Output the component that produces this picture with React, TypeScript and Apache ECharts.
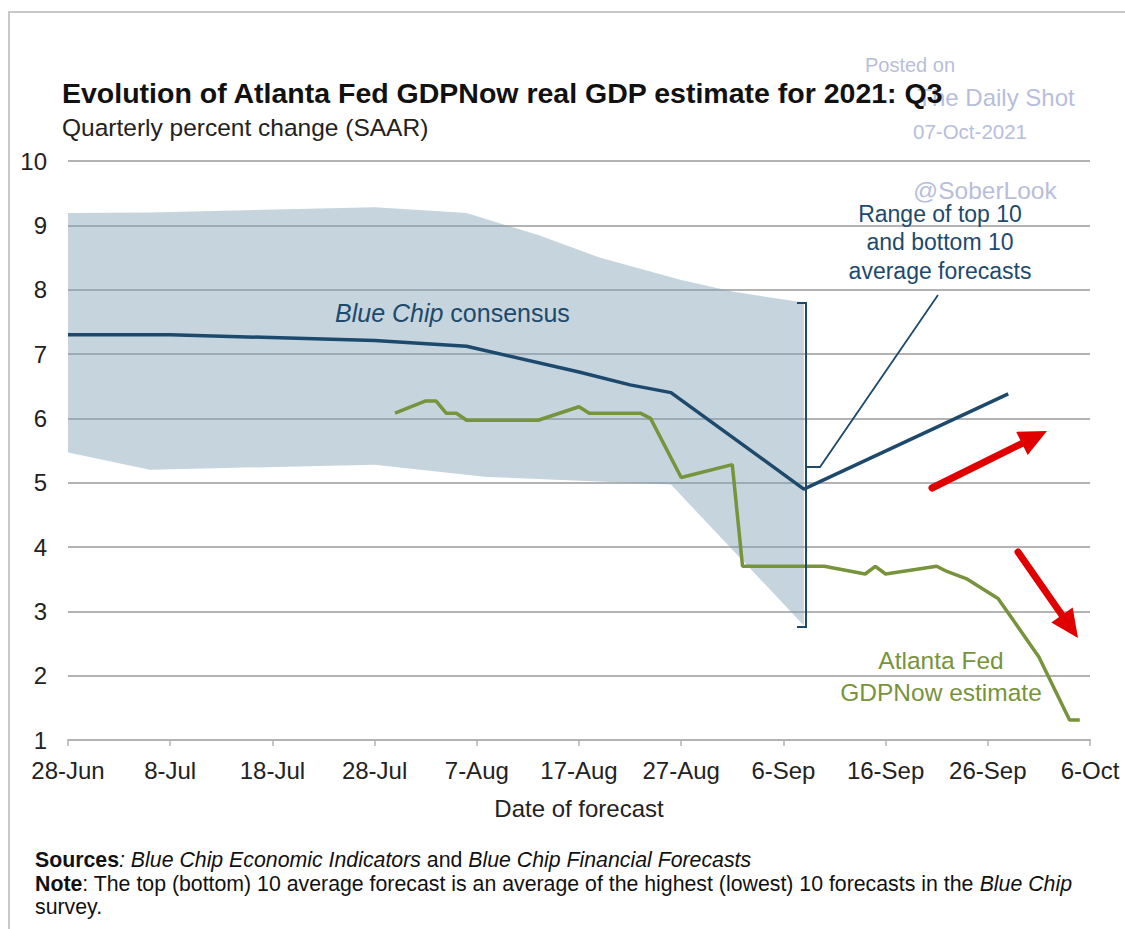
import React, { useEffect, useRef } from "react";
import * as echarts from "echarts";

// x values are days since 28-Jun-2021
const tickLabels = ["28-Jun", "8-Jul", "18-Jul", "28-Jul", "7-Aug", "17-Aug", "27-Aug", "6-Sep", "16-Sep", "26-Sep", "6-Oct"];

const bandUpperDays = [0, 8, 30, 39, 46, 52, 60, 65, 72];
const bandUpperValues = [9.19, 9.2, 9.28, 9.19, 8.85, 8.5, 8.15, 7.97, 7.8];
const bandLowerDays = [0, 8, 30, 41, 59, 72];
const bandLowerValues = [5.47, 5.2, 5.28, 5.09, 4.97, 2.78];

const consensusDays = [0, 10, 30, 39, 50, 55, 59, 72, 92];
const consensusValues = [7.3, 7.3, 7.21, 7.12, 6.72, 6.52, 6.4, 4.9, 6.38];

const gdpNowDays = [32, 35, 36, 37, 38, 39, 46, 50, 51, 56, 57, 60, 65, 66, 74, 78, 79, 80, 85, 86, 88, 91, 92.5, 95, 98, 99];
const gdpNowValues = [6.08, 6.27, 6.27, 6.08, 6.08, 5.97, 5.97, 6.18, 6.08, 6.08, 6.0, 5.08, 5.28, 3.7, 3.7, 3.58, 3.7, 3.58, 3.7, 3.62, 3.5, 3.2, 2.86, 2.29, 1.31, 1.31];

const NAVY = "#1d4a6c";
const GREEN = "#77933c";
const RED = "#e00000";
const WM = "#b7bedb";
const FONT = "Liberation Sans, Arial, sans-serif";
const NARROW = "Liberation Sans Narrow, Arial Narrow, Liberation Sans, sans-serif";

function arrow(x1: number, y1: number, x2: number, y2: number) {
  const dx = x2 - x1, dy = y2 - y1;
  const len = Math.sqrt(dx * dx + dy * dy);
  const ux = dx / len, uy = dy / len;
  const headLen = 28, headHalf = 13;
  const bx = x2 - ux * headLen, by = y2 - uy * headLen;
  const px = -uy, py = ux;
  return [
    { type: "line", shape: { x1, y1, x2: bx + ux * 2, y2: by + uy * 2 }, style: { stroke: RED, lineWidth: 7, lineCap: "round" }, z: 50 },
    {
      type: "polygon",
      shape: { points: [[x2, y2], [bx + px * headHalf, by + py * headHalf], [bx - px * headHalf, by - py * headHalf]] },
      style: { fill: RED },
      z: 50,
    },
  ];
}

export default function App() {
  const ref = useRef<HTMLDivElement>(null);
  useEffect(() => {
    if (!ref.current) return;
    const chart = echarts.init(ref.current, null, { renderer: "svg" });
    const upper = bandUpperDays.map((d, i) => [d, bandUpperValues[i]]);
    const lower = bandLowerDays.map((d, i) => [d, bandLowerValues[i]]);
    const srcSize = 21.3;
    const option: any = {
      animation: false,
      backgroundColor: "#ffffff",
      grid: { left: 68, right: 35, top: 161, bottom: 189, outerBoundsMode: "none" },
      xAxis: {
        type: "value",
        min: 0,
        max: 100,
        interval: 10,
        name: "Date of forecast",
        nameLocation: "middle",
        nameGap: 56,
        nameTextStyle: { fontSize: 24, color: "#222", fontFamily: NARROW },
        axisLine: { show: true, lineStyle: { color: "#b3b3b3", width: 2 } },
        axisTick: { show: true, length: 6, lineStyle: { color: "#b3b3b3", width: 1.5 } },
        splitLine: { show: false },
        axisLabel: {
          fontSize: 24,
          color: "#222",
          fontFamily: NARROW,
          margin: 18,
          formatter: (v: number) => tickLabels[Math.round(v / 10)] ?? "",
        },
      },
      yAxis: {
        type: "value",
        min: 1,
        max: 10,
        interval: 1,
        axisLine: { show: false },
        axisTick: { show: false },
        splitLine: { show: true, lineStyle: { color: "#b3b3b3", width: 2 } },
        axisLabel: { fontSize: 24, color: "#222", fontFamily: NARROW, margin: 21 },
      },
      series: [
        {
          type: "custom",
          z: 1,
          clip: false,
          silent: true,
          data: [[0, 5]],
          renderItem: (_p: any, api: any) => {
            const pts = [...upper, ...lower.slice().reverse()].map((p) => api.coord(p));
            return { type: "polygon", shape: { points: pts }, style: { fill: "rgba(126,159,179,0.45)" } };
          },
        },
        {
          type: "line",
          z: 3,
          data: consensusDays.map((d, i) => [d, consensusValues[i]]),
          showSymbol: false,
          symbol: "none",
          lineStyle: { color: NAVY, width: 3.5 },
        },
        {
          type: "line",
          z: 4,
          data: gdpNowDays.map((d, i) => [d, gdpNowValues[i]]),
          showSymbol: false,
          symbol: "none",
          lineStyle: { color: GREEN, width: 3.5 },
        },
      ],
      graphic: [
        // frame
        { type: "polyline", shape: { points: [[9, 929], [9, 12], [1125, 12]] }, style: { stroke: "#c8c8c8", lineWidth: 2, fill: "none" }, z: 0 },
        // watermark
        { type: "text", x: 910, y: 65, style: { text: "Posted on", fill: WM, fontSize: 20, fontFamily: FONT, textAlign: "center", textVerticalAlign: "middle" }, z: 5 },
        { type: "text", x: 996, y: 97, style: { text: "The Daily Shot", fill: WM, fontSize: 24, fontFamily: FONT, textAlign: "center", textVerticalAlign: "middle" }, z: 5 },
        { type: "text", x: 970, y: 131, style: { text: "07-Oct-2021", fill: WM, fontSize: 20.5, fontFamily: FONT, textAlign: "center", textVerticalAlign: "middle" }, z: 5 },
        { type: "text", x: 985, y: 190, style: { text: "@SoberLook", fill: WM, fontSize: 24.5, fontFamily: FONT, textAlign: "center", textVerticalAlign: "middle" }, z: 5 },
        // title
        { type: "text", x: 62, y: 93, style: { text: "Evolution of Atlanta Fed GDPNow real GDP estimate for 2021: Q3", fill: "#111", fontSize: 28.5, fontWeight: "bold", fontFamily: FONT, textVerticalAlign: "middle" }, z: 20 },
        { type: "text", x: 62, y: 127, style: { text: "Quarterly percent change (SAAR)", fill: "#222", fontSize: 24.5, fontFamily: FONT, textVerticalAlign: "middle" }, z: 20 },
        // annotations
        {
          type: "text", x: 335, y: 313,
          style: {
            text: "{i|Blue Chip} consensus", fill: NAVY, fontSize: 25, fontFamily: FONT, textVerticalAlign: "middle",
            rich: { i: { fontStyle: "italic", fontSize: 25, fontFamily: FONT, fill: NAVY } },
          },
          z: 20,
        },
        { type: "text", x: 940, y: 242, style: { text: "Range of top 10\nand bottom 10\naverage forecasts", fill: NAVY, fontSize: 23, lineHeight: 28.5, fontFamily: FONT, textAlign: "center", textVerticalAlign: "middle" }, z: 20 },
        { type: "text", x: 941, y: 676, style: { text: "Atlanta Fed\nGDPNow estimate", fill: GREEN, fontSize: 24.5, lineHeight: 32, fontFamily: FONT, textAlign: "center", textVerticalAlign: "middle" }, z: 20 },
        { type: "polyline", shape: { points: [[797, 303], [806, 303], [806, 627], [797, 627]] }, style: { stroke: NAVY, lineWidth: 2, fill: "none" }, z: 20 },
        { type: "polyline", shape: { points: [[806, 467], [820, 467], [938, 295]] }, style: { stroke: NAVY, lineWidth: 1.8, fill: "none" }, z: 20 },
        ...arrow(932, 488, 1047, 431),
        ...arrow(1018, 552, 1078, 638),
        // sources
        {
          type: "text", x: 35, y: 860,
          style: {
            text: "{b|Sources}{i|: Blue Chip Economic Indicators} and {i|Blue Chip Financial Forecasts}",
            fill: "#111", fontSize: srcSize, fontFamily: FONT, textVerticalAlign: "middle",
            rich: {
              b: { fontWeight: "bold", fontSize: srcSize, fontFamily: FONT, fill: "#111" },
              i: { fontStyle: "italic", fontSize: srcSize, fontFamily: FONT, fill: "#111" },
            },
          },
          z: 20,
        },
        {
          type: "text", x: 35, y: 884,
          style: {
            text: "{b|Note}: The top (bottom) 10 average forecast is an average of the highest (lowest) 10 forecasts in the {i|Blue Chip}",
            fill: "#111", fontSize: srcSize, fontFamily: FONT, textVerticalAlign: "middle",
            rich: {
              b: { fontWeight: "bold", fontSize: srcSize, fontFamily: FONT, fill: "#111" },
              i: { fontStyle: "italic", fontSize: srcSize, fontFamily: FONT, fill: "#111" },
            },
          },
          z: 20,
        },
        { type: "text", x: 35, y: 907, style: { text: "survey.", fill: "#111", fontSize: srcSize, fontFamily: FONT, textVerticalAlign: "middle" }, z: 20 },
      ],
    };
    chart.setOption(option);
    return () => chart.dispose();
  }, []);
  return <div ref={ref} style={{ position: "fixed", left: 0, top: 0, width: 1125, height: 929, background: "#fff" }} />;
}
